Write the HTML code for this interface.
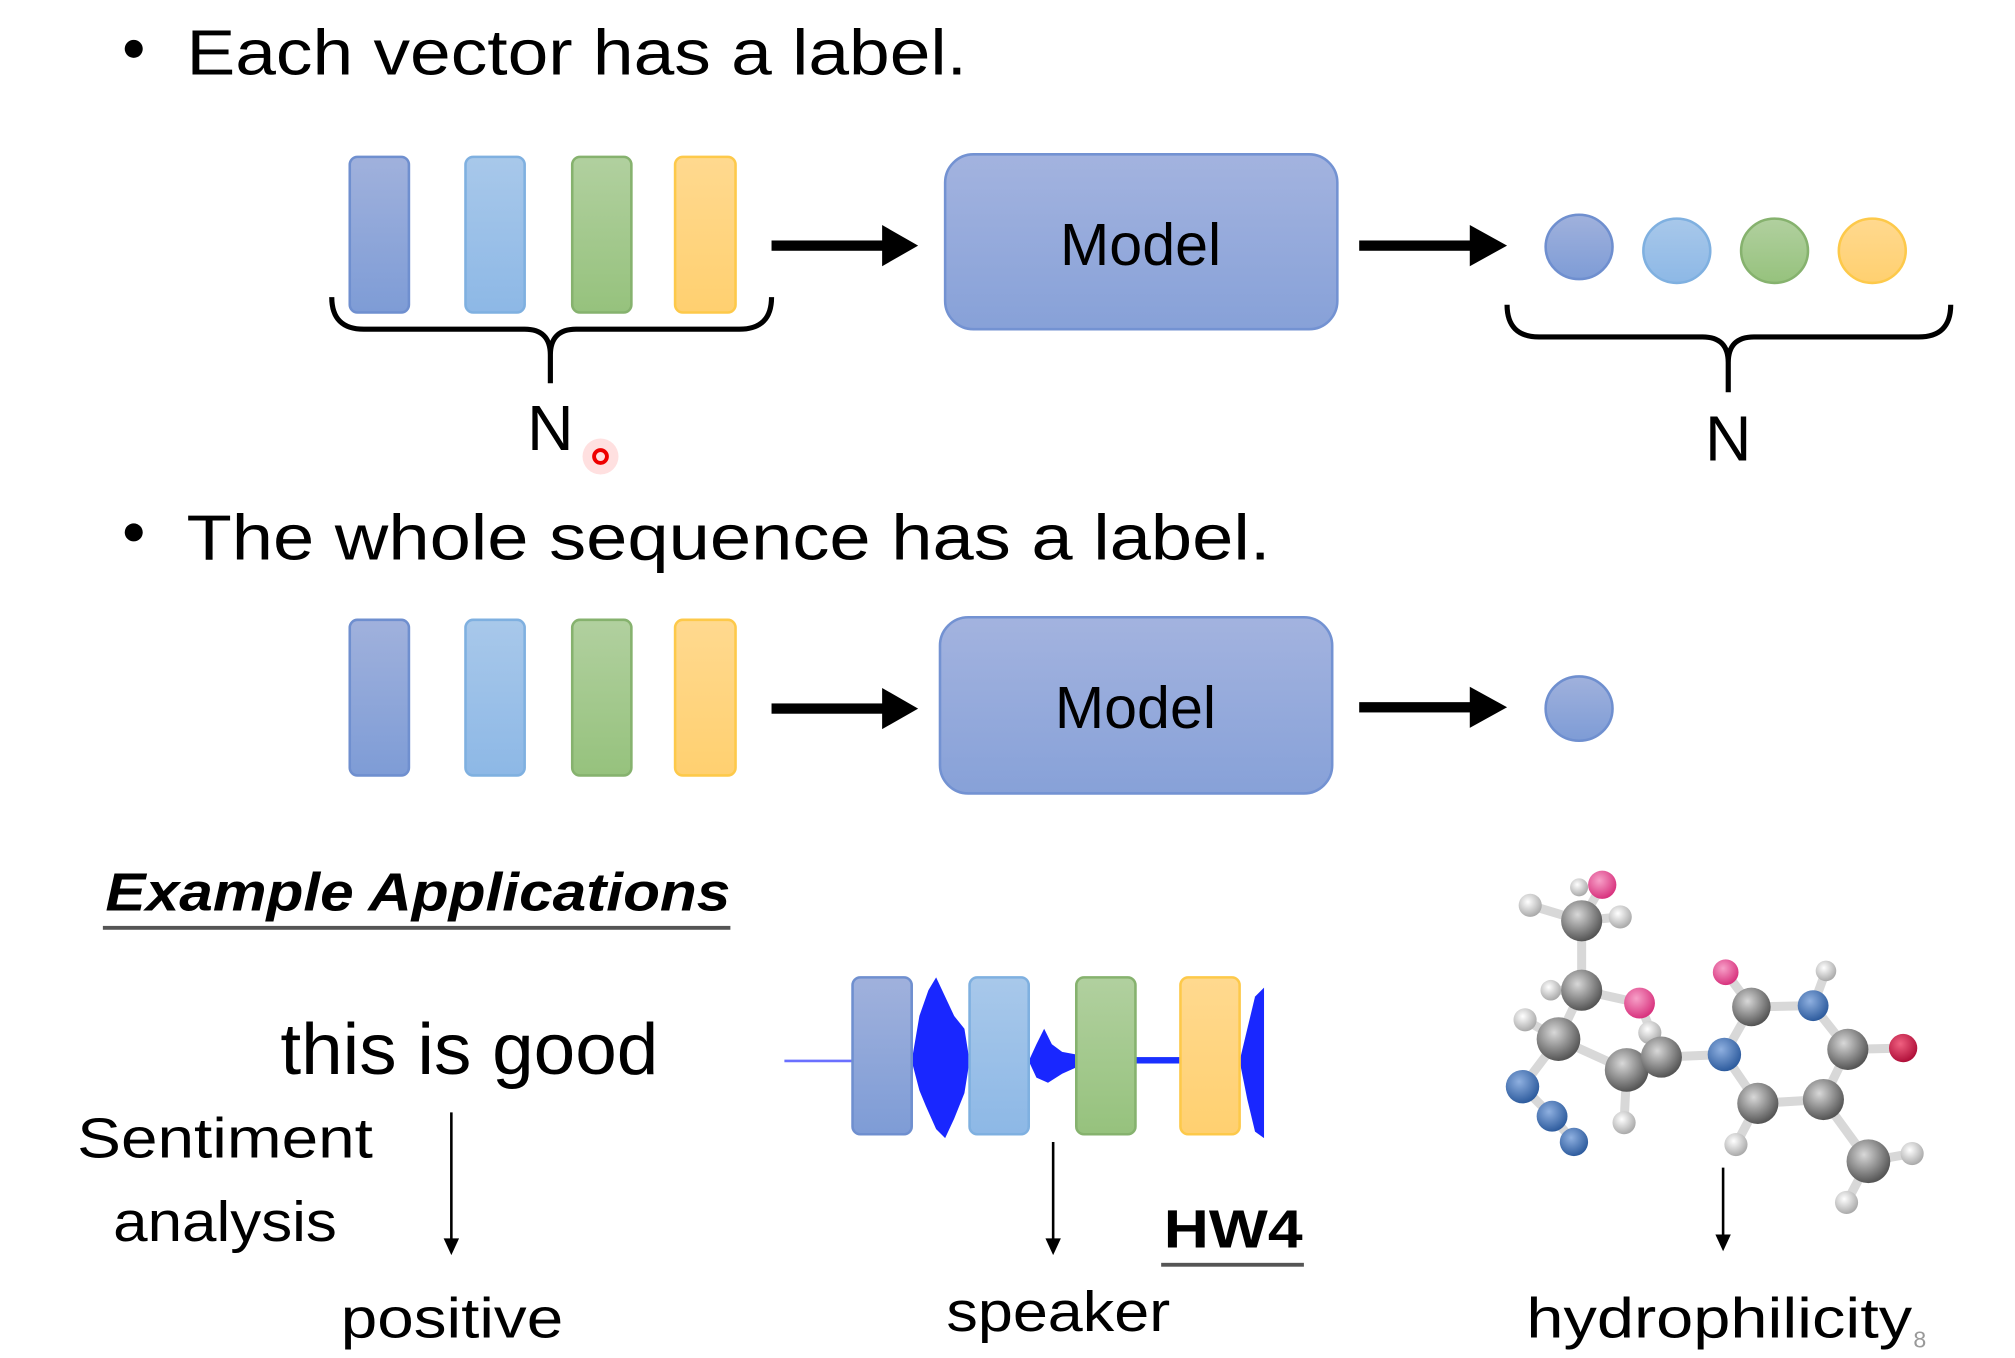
<!DOCTYPE html>
<html><head><meta charset="utf-8"><style>html,body{margin:0;padding:0;background:#fff;}svg{display:block}</style></head>
<body>
<svg width="2015" height="1358" viewBox="0 0 1567 1056" preserveAspectRatio="none" xmlns="http://www.w3.org/2000/svg" font-family="'Liberation Sans', sans-serif">
<defs>
<linearGradient id="gb" x1="0" y1="0" x2="0" y2="1"><stop offset="0" stop-color="#a0b1dc"/><stop offset="1" stop-color="#7e9cd6"/></linearGradient>
<linearGradient id="gl" x1="0" y1="0" x2="0" y2="1"><stop offset="0" stop-color="#a8c8ea"/><stop offset="1" stop-color="#8db8e6"/></linearGradient>
<linearGradient id="gg" x1="0" y1="0" x2="0" y2="1"><stop offset="0" stop-color="#b1d09f"/><stop offset="1" stop-color="#96c27d"/></linearGradient>
<linearGradient id="gy" x1="0" y1="0" x2="0" y2="1"><stop offset="0" stop-color="#ffd98f"/><stop offset="1" stop-color="#ffd070"/></linearGradient>
<linearGradient id="gm" x1="0" y1="0" x2="0" y2="1"><stop offset="0" stop-color="#a3b3df"/><stop offset="1" stop-color="#87a1d8"/></linearGradient>
<radialGradient id="bg" cx="0.4" cy="0.35" r="0.65"><stop offset="0" stop-color="#d8d8d8"/><stop offset="1" stop-color="#555"/></radialGradient>
<radialGradient id="bw" cx="0.4" cy="0.35" r="0.65"><stop offset="0" stop-color="#fff"/><stop offset="1" stop-color="#aaa"/></radialGradient>
<radialGradient id="bp" cx="0.4" cy="0.35" r="0.65"><stop offset="0" stop-color="#f7a0c8"/><stop offset="1" stop-color="#d8337e"/></radialGradient>
<radialGradient id="br" cx="0.4" cy="0.35" r="0.65"><stop offset="0" stop-color="#f06080"/><stop offset="1" stop-color="#b0103a"/></radialGradient>
<radialGradient id="bn" cx="0.4" cy="0.35" r="0.65"><stop offset="0" stop-color="#8fb0e0"/><stop offset="1" stop-color="#2e5c9e"/></radialGradient>
</defs>

<circle cx="104" cy="38" r="7" fill="#000"/>
<text x="145" y="58" font-size="50" textLength="607" lengthAdjust="spacingAndGlyphs">Each vector has a label.</text>

<g stroke-width="2">
<rect x="272" y="122" width="46" height="121" rx="6" fill="url(#gb)" stroke="#6f8fcf"/>
<rect x="362" y="122" width="46" height="121" rx="6" fill="url(#gl)" stroke="#7fb0e0"/>
<rect x="445" y="122" width="46" height="121" rx="6" fill="url(#gg)" stroke="#86b26e"/>
<rect x="525" y="122" width="47" height="121" rx="6" fill="url(#gy)" stroke="#fdc94a"/>
</g>
<rect x="600" y="187" width="88" height="8" fill="#000"/>
<polygon points="686,175 714,191 686,207" fill="#000"/>
<rect x="735" y="120" width="305" height="136" rx="22" fill="url(#gm)" stroke="#7392d2" stroke-width="2"/>
<text x="887" y="206" font-size="46" text-anchor="middle">Model</text>
<rect x="1057" y="187" width="88" height="8" fill="#000"/>
<polygon points="1143,175 1172,191 1143,207" fill="#000"/>
<g stroke-width="2">
<ellipse cx="1228" cy="192" rx="26" ry="25" fill="url(#gb)" stroke="#6f8fcf"/>
<ellipse cx="1304" cy="195" rx="26" ry="25" fill="url(#gl)" stroke="#7fb0e0"/>
<ellipse cx="1380" cy="195" rx="26" ry="25" fill="url(#gg)" stroke="#86b26e"/>
<ellipse cx="1456" cy="195" rx="26" ry="25" fill="url(#gy)" stroke="#fdc94a"/>
</g>
<path d="M258,231 Q258,256 283,256 L408,256 Q428,256 428,276 L428,298 M428,276 Q428,256 448,256 L575,256 Q600,256 600,231" fill="none" stroke="#000" stroke-width="4"/>
<text x="428" y="350" font-size="50" text-anchor="middle">N</text>
<circle cx="467" cy="355" r="14" fill="#ff0000" opacity="0.12"/>
<circle cx="467" cy="355" r="5" fill="none" stroke="#e00" stroke-width="3"/>
<path d="M1172,237 Q1172,262 1197,262 L1324,262 Q1344,262 1344,282 L1344,305 M1344,282 Q1344,262 1364,262 L1492,262 Q1517,262 1517,237" fill="none" stroke="#000" stroke-width="4"/>
<text x="1344" y="358" font-size="50" text-anchor="middle">N</text>

<circle cx="104" cy="414" r="7" fill="#000"/>
<text x="145" y="435" font-size="50" textLength="843" lengthAdjust="spacingAndGlyphs">The whole sequence has a label.</text>

<g stroke-width="2">
<rect x="272" y="482" width="46" height="121" rx="6" fill="url(#gb)" stroke="#6f8fcf"/>
<rect x="362" y="482" width="46" height="121" rx="6" fill="url(#gl)" stroke="#7fb0e0"/>
<rect x="445" y="482" width="46" height="121" rx="6" fill="url(#gg)" stroke="#86b26e"/>
<rect x="525" y="482" width="47" height="121" rx="6" fill="url(#gy)" stroke="#fdc94a"/>
</g>
<rect x="600" y="547" width="88" height="8" fill="#000"/>
<polygon points="686,535 714,551 686,567" fill="#000"/>
<rect x="731" y="480" width="305" height="137" rx="22" fill="url(#gm)" stroke="#7392d2" stroke-width="2"/>
<text x="883" y="566" font-size="46" text-anchor="middle">Model</text>
<rect x="1057" y="546" width="88" height="8" fill="#000"/>
<polygon points="1143,534 1172,550 1143,566" fill="#000"/>
<ellipse cx="1228" cy="551" rx="26" ry="25" fill="url(#gb)" stroke="#6f8fcf" stroke-width="2"/>

<text x="82" y="708" font-size="42" font-weight="bold" font-style="italic" textLength="486" lengthAdjust="spacingAndGlyphs">Example Applications</text>
<rect x="80" y="720" width="488" height="3" fill="#555"/>

<text x="218" y="835" font-size="56" textLength="294" lengthAdjust="spacingAndGlyphs">this is good</text>
<text x="60" y="900" font-size="44" textLength="230" lengthAdjust="spacingAndGlyphs">Sentiment</text>
<text x="88" y="965" font-size="44" textLength="174" lengthAdjust="spacingAndGlyphs">analysis</text>
<line x1="351" y1="865" x2="351" y2="965" stroke="#000" stroke-width="2"/>
<polygon points="345,963 357,963 351,976" fill="#000"/>
<text x="265" y="1040" font-size="44" textLength="173" lengthAdjust="spacingAndGlyphs">positive</text>

<line x1="610" y1="825" x2="665" y2="825" stroke="#6a70ff" stroke-width="2"/>
<path d="M709,825 L715,790 L722,770 L728,760 L735,775 L742,790 L750,800 L754,825 L750,850 L742,870 L735,885 L728,878 L720,860 L715,848 Z" fill="#0010ff" opacity="0.9"/>
<path d="M800,825 L806,812 L812,800 L818,812 L826,818 L837,820 L837,830 L826,835 L815,842 L806,838 Z" fill="#0010ff" opacity="0.9"/>
<rect x="883" y="822" width="35" height="5" fill="#1a30ff"/>
<path d="M964,825 L970,800 L976,775 L983,768 L983,885 L976,880 L970,855 Z" fill="#0010ff" opacity="0.9"/>
<g stroke-width="2">
<rect x="663" y="760" width="46" height="122" rx="6" fill="url(#gb)" stroke="#6f8fcf"/>
<rect x="754" y="760" width="46" height="122" rx="6" fill="url(#gl)" stroke="#7fb0e0"/>
<rect x="837" y="760" width="46" height="122" rx="6" fill="url(#gg)" stroke="#86b26e"/>
<rect x="918" y="760" width="46" height="122" rx="6" fill="url(#gy)" stroke="#fdc94a"/>
</g>
<line x1="819" y1="888" x2="819" y2="965" stroke="#000" stroke-width="2"/>
<polygon points="813,963 825,963 819,976" fill="#000"/>
<text x="905" y="970" font-size="42" font-weight="bold" textLength="108" lengthAdjust="spacingAndGlyphs">HW4</text>
<rect x="903" y="982" width="111" height="3" fill="#555"/>
<text x="736" y="1035" font-size="44" textLength="174" lengthAdjust="spacingAndGlyphs">speaker</text>

<g stroke="#d8d8d8" stroke-width="7" stroke-linecap="round">
<line x1="1230" y1="716" x2="1190" y2="704"/><line x1="1230" y1="716" x2="1246" y2="688"/><line x1="1230" y1="716" x2="1260" y2="713"/>
<line x1="1230" y1="716" x2="1230" y2="770"/><line x1="1230" y1="770" x2="1275" y2="780"/><line x1="1230" y1="770" x2="1206" y2="770"/>
<line x1="1230" y1="770" x2="1212" y2="808"/><line x1="1212" y1="808" x2="1186" y2="793"/><line x1="1212" y1="808" x2="1265" y2="832"/>
<line x1="1275" y1="780" x2="1292" y2="822"/><line x1="1265" y1="832" x2="1292" y2="822"/><line x1="1265" y1="832" x2="1263" y2="873"/>
<line x1="1212" y1="808" x2="1184" y2="845"/><line x1="1184" y1="845" x2="1207" y2="868"/><line x1="1207" y1="868" x2="1224" y2="888"/>
<line x1="1292" y1="822" x2="1341" y2="820"/><line x1="1341" y1="820" x2="1362" y2="783"/><line x1="1362" y1="783" x2="1342" y2="756"/>
<line x1="1362" y1="783" x2="1410" y2="782"/><line x1="1410" y1="782" x2="1420" y2="755"/><line x1="1410" y1="782" x2="1437" y2="816"/>
<line x1="1437" y1="816" x2="1480" y2="815"/><line x1="1437" y1="816" x2="1418" y2="855"/><line x1="1418" y1="855" x2="1367" y2="858"/>
<line x1="1367" y1="858" x2="1341" y2="820"/><line x1="1367" y1="858" x2="1350" y2="890"/><line x1="1418" y1="855" x2="1453" y2="903"/>
<line x1="1453" y1="903" x2="1487" y2="897"/><line x1="1453" y1="903" x2="1436" y2="935"/><line x1="1292" y1="822" x2="1283" y2="803"/>
</g>
<g>
<circle cx="1190" cy="704" r="9" fill="url(#bw)"/><circle cx="1260" cy="713" r="9" fill="url(#bw)"/><circle cx="1206" cy="770" r="8" fill="url(#bw)"/>
<circle cx="1186" cy="793" r="9" fill="url(#bw)"/><circle cx="1283" cy="803" r="9" fill="url(#bw)"/><circle cx="1263" cy="873" r="9" fill="url(#bw)"/>
<circle cx="1420" cy="755" r="8" fill="url(#bw)"/><circle cx="1350" cy="890" r="9" fill="url(#bw)"/><circle cx="1487" cy="897" r="9" fill="url(#bw)"/>
<circle cx="1436" cy="935" r="9" fill="url(#bw)"/><circle cx="1228" cy="690" r="7" fill="url(#bw)"/>
<circle cx="1246" cy="688" r="11" fill="url(#bp)"/><circle cx="1275" cy="780" r="12" fill="url(#bp)"/><circle cx="1342" cy="756" r="10" fill="url(#bp)"/>
<circle cx="1480" cy="815" r="11" fill="url(#br)"/>
<circle cx="1184" cy="845" r="13" fill="url(#bn)"/><circle cx="1207" cy="868" r="12" fill="url(#bn)"/><circle cx="1224" cy="888" r="11" fill="url(#bn)"/>
<circle cx="1341" cy="820" r="13" fill="url(#bn)"/><circle cx="1410" cy="782" r="12" fill="url(#bn)"/>
<circle cx="1230" cy="716" r="16" fill="url(#bg)"/><circle cx="1230" cy="770" r="16" fill="url(#bg)"/><circle cx="1212" cy="808" r="17" fill="url(#bg)"/>
<circle cx="1265" cy="832" r="17" fill="url(#bg)"/><circle cx="1292" cy="822" r="16" fill="url(#bg)"/><circle cx="1362" cy="783" r="15" fill="url(#bg)"/>
<circle cx="1437" cy="816" r="16" fill="url(#bg)"/><circle cx="1418" cy="855" r="16" fill="url(#bg)"/><circle cx="1367" cy="858" r="16" fill="url(#bg)"/>
<circle cx="1453" cy="903" r="17" fill="url(#bg)"/>
</g>
<line x1="1340" y1="908" x2="1340" y2="962" stroke="#000" stroke-width="2"/>
<polygon points="1334,960 1346,960 1340,973" fill="#000"/>
<text x="1187" y="1040" font-size="44" textLength="300" lengthAdjust="spacingAndGlyphs">hydrophilicity</text>
<text x="1488" y="1048" font-size="18" fill="#999">8</text>
</svg>
</body></html>
